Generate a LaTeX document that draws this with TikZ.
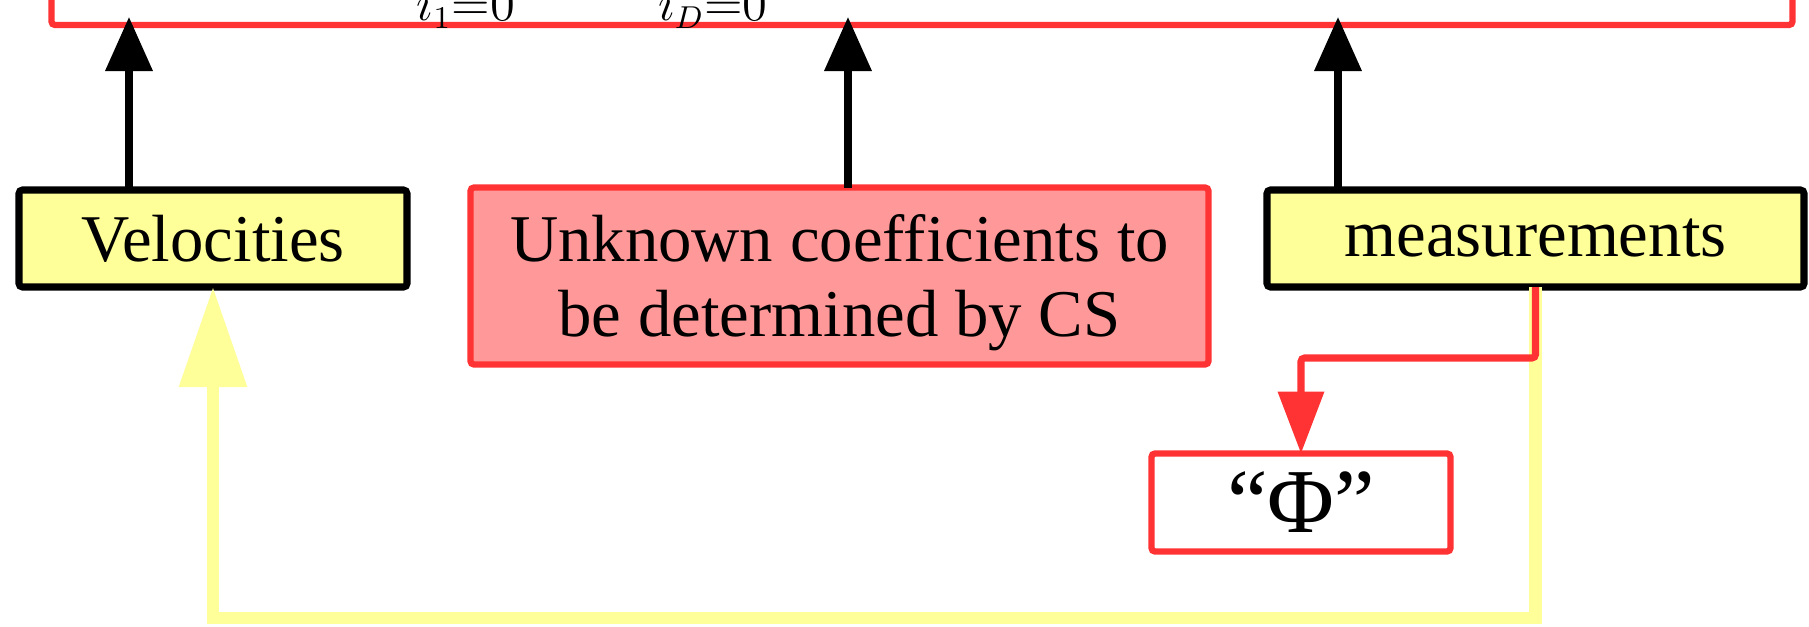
\documentclass[tikz,border=0pt]{standalone}
\usepackage{amsmath, amssymb}
\usepackage{fontspec}
\setmainfont{Liberation Serif}
\usetikzlibrary{arrows.meta}

\definecolor{boxyellow}{HTML}{FFFF99}
\definecolor{boxred}{HTML}{FF3333}
\definecolor{boxpink}{HTML}{FF9999}

\tikzset{
  yellowbox/.style={draw=black, fill=boxyellow, line width=2pt, rounded corners=1pt,
    inner sep=0pt, outer sep=0pt, font=\fontsize{19}{21.3}\selectfont},
  redbox/.style={draw=boxred, line width=1.8pt, rounded corners=1pt,
    inner sep=0pt, outer sep=0pt, align=center, font=\fontsize{19}{21.3}\selectfont},
  uparrow/.style={line width=2pt, -{Triangle[length=0.54cm,width=0.46cm]}},
  redarrow/.style={draw=boxred, line width=2pt, rounded corners=1pt,
    -{Triangle[length=0.62cm,width=0.45cm]}},
  backarrow/.style={draw=boxyellow, line width=3.6pt,
    -{Triangle[length=1cm,width=0.65cm]}}
}

\begin{document}
\begin{tikzpicture}
  \clip (0,0) rectangle (18.09,-6.26);
  % top box, only its lower edge is in view
  \node[redbox, minimum width=17.41cm, minimum height=2cm, anchor=south] (model) at (9.22,-0.25) {};
  \node[anchor=base west, inner sep=0pt, font=\fontsize{19}{21.3}\selectfont] (sum) at (4.16,0.62)
    {$\displaystyle \sum_{i_1=0}^{P}\hspace{0.26cm}\cdots\hspace{0.26cm}\sum_{i_D=0}^{P} c_{i_1\cdots i_D}\,\Psi_{i_1\cdots i_D}$};

  \node[yellowbox, minimum width=3.88cm, minimum height=0.97cm] (velo) at (2.13,-2.385) {Velocities};
  \node[redbox, fill=boxpink, minimum width=7.38cm, minimum height=1.77cm] (coef) at (8.395,-2.76)
    {\raisebox{-0.08cm}[\height][\depth]{\begin{tabular}{@{}c@{}}Unknown coefficients to\\be determined by CS\end{tabular}}};
  \node[yellowbox, minimum width=5.37cm, minimum height=0.97cm] (meas) at (15.355,-2.385) {measurements};
  \node[redbox, minimum width=2.99cm, minimum height=0.98cm, font=\fontsize{26}{28}\selectfont] (phi)
    at (13.01,-5.025) {“Φ”};

  \draw[uparrow] (velo.north -| 1.29,0) -- ([yshift=0.08cm]model.south -| 1.29,0);
  \draw[uparrow] (coef.north -| 8.48,0) -- ([yshift=0.08cm]model.south -| 8.48,0);
  \draw[uparrow] (meas.north -| 13.38,0) -- ([yshift=0.08cm]model.south -| 13.38,0);

  \draw[backarrow] (meas.south) -- ++(0,-3.31) -| (velo.south);
  \draw[redarrow] (meas.south) -- ++(0,-0.71) -| (phi.north);
\end{tikzpicture}
\end{document}
